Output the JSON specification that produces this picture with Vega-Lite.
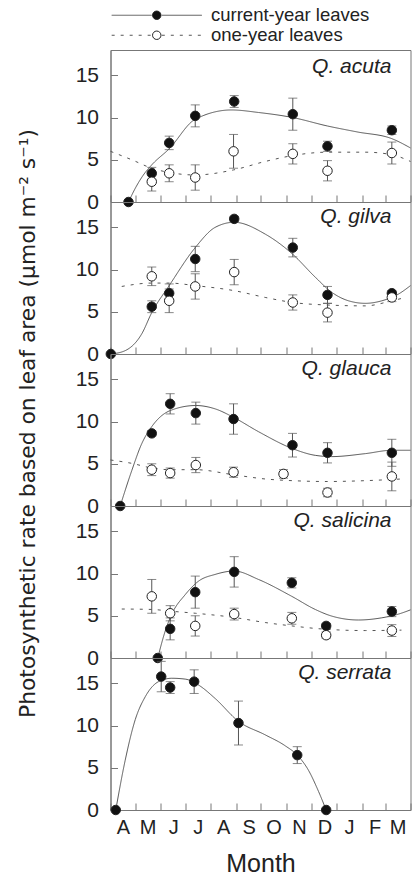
{
  "$schema": "https://vega.github.io/schema/vega-lite/v6.json",
  "padding": {"left": 16.5, "top": 6, "right": 0, "bottom": 0},
  "spacing": 0,
  "bounds": "flush",
  "config": {
    "font": "Liberation Sans",
    "view": {"stroke": "#777", "strokeWidth": 1},
    "axis": {"grid": false, "domainColor": "#777", "tickColor": "#777", "labelColor": "#222", "titleColor": "#222", "titleFontWeight": "normal", "labelFlush": false, "labelOverlap": false}
  },
  "datasets": {
    "obs": [
      {"sp": "Q. acuta", "leaves": "current-year leaves", "day": 21.9, "rate": 0, "err": 0},
      {"sp": "Q. acuta", "leaves": "current-year leaves", "day": 50.2, "rate": 3.4, "err": 0.7},
      {"sp": "Q. acuta", "leaves": "current-year leaves", "day": 71.4, "rate": 7.0, "err": 0.8},
      {"sp": "Q. acuta", "leaves": "current-year leaves", "day": 103.1, "rate": 10.2, "err": 1.3},
      {"sp": "Q. acuta", "leaves": "current-year leaves", "day": 150.5, "rate": 11.9, "err": 0.7},
      {"sp": "Q. acuta", "leaves": "current-year leaves", "day": 221.8, "rate": 10.4, "err": 1.9},
      {"sp": "Q. acuta", "leaves": "current-year leaves", "day": 264.0, "rate": 6.6, "err": 0.6},
      {"sp": "Q. acuta", "leaves": "current-year leaves", "day": 342.3, "rate": 8.5, "err": 0.5},
      {"sp": "Q. acuta", "leaves": "one-year leaves", "day": 50.2, "rate": 2.4, "err": 1.1},
      {"sp": "Q. acuta", "leaves": "one-year leaves", "day": 71.4, "rate": 3.4, "err": 1.0},
      {"sp": "Q. acuta", "leaves": "one-year leaves", "day": 103.1, "rate": 2.9, "err": 1.5},
      {"sp": "Q. acuta", "leaves": "one-year leaves", "day": 149.7, "rate": 6.0, "err": 2.0},
      {"sp": "Q. acuta", "leaves": "one-year leaves", "day": 221.8, "rate": 5.7, "err": 1.2},
      {"sp": "Q. acuta", "leaves": "one-year leaves", "day": 264.0, "rate": 3.7, "err": 1.2},
      {"sp": "Q. acuta", "leaves": "one-year leaves", "day": 342.3, "rate": 5.8, "err": 1.3},

      {"sp": "Q. gilva", "leaves": "current-year leaves", "day": 0.4, "rate": 0, "err": 0},
      {"sp": "Q. gilva", "leaves": "current-year leaves", "day": 50.2, "rate": 5.6, "err": 0.7},
      {"sp": "Q. gilva", "leaves": "current-year leaves", "day": 71.4, "rate": 7.2, "err": 1.1},
      {"sp": "Q. gilva", "leaves": "current-year leaves", "day": 103.1, "rate": 11.25, "err": 1.5},
      {"sp": "Q. gilva", "leaves": "current-year leaves", "day": 150.5, "rate": 16.0, "err": 0.3},
      {"sp": "Q. gilva", "leaves": "current-year leaves", "day": 221.8, "rate": 12.6, "err": 1.1},
      {"sp": "Q. gilva", "leaves": "current-year leaves", "day": 264.0, "rate": 7.0, "err": 1.0},
      {"sp": "Q. gilva", "leaves": "current-year leaves", "day": 342.3, "rate": 7.2, "err": 0.3},
      {"sp": "Q. gilva", "leaves": "one-year leaves", "day": 50.2, "rate": 9.2, "err": 1.1},
      {"sp": "Q. gilva", "leaves": "one-year leaves", "day": 71.4, "rate": 6.3, "err": 1.4},
      {"sp": "Q. gilva", "leaves": "one-year leaves", "day": 103.1, "rate": 8.0, "err": 1.5},
      {"sp": "Q. gilva", "leaves": "one-year leaves", "day": 150.5, "rate": 9.7, "err": 1.5},
      {"sp": "Q. gilva", "leaves": "one-year leaves", "day": 221.8, "rate": 6.1, "err": 0.9},
      {"sp": "Q. gilva", "leaves": "one-year leaves", "day": 264.0, "rate": 4.9, "err": 1.1},
      {"sp": "Q. gilva", "leaves": "one-year leaves", "day": 342.3, "rate": 6.7, "err": 0.5},

      {"sp": "Q. glauca", "leaves": "current-year leaves", "day": 11.8, "rate": 0, "err": 0},
      {"sp": "Q. glauca", "leaves": "current-year leaves", "day": 50.2, "rate": 8.6, "err": 0.3},
      {"sp": "Q. glauca", "leaves": "current-year leaves", "day": 72.6, "rate": 12.1, "err": 1.2},
      {"sp": "Q. glauca", "leaves": "current-year leaves", "day": 103.8, "rate": 11.0, "err": 1.3},
      {"sp": "Q. glauca", "leaves": "current-year leaves", "day": 149.7, "rate": 10.3, "err": 1.8},
      {"sp": "Q. glauca", "leaves": "current-year leaves", "day": 221.4, "rate": 7.2, "err": 1.4},
      {"sp": "Q. glauca", "leaves": "current-year leaves", "day": 264.0, "rate": 6.3, "err": 1.2},
      {"sp": "Q. glauca", "leaves": "current-year leaves", "day": 342.3, "rate": 6.3, "err": 1.6},
      {"sp": "Q. glauca", "leaves": "one-year leaves", "day": 50.2, "rate": 4.3, "err": 0.7},
      {"sp": "Q. glauca", "leaves": "one-year leaves", "day": 72.6, "rate": 3.9, "err": 0.6},
      {"sp": "Q. glauca", "leaves": "one-year leaves", "day": 103.8, "rate": 4.85, "err": 0.9},
      {"sp": "Q. glauca", "leaves": "one-year leaves", "day": 149.7, "rate": 4.0, "err": 0.6},
      {"sp": "Q. glauca", "leaves": "one-year leaves", "day": 210.5, "rate": 3.8, "err": 0.5},
      {"sp": "Q. glauca", "leaves": "one-year leaves", "day": 264.0, "rate": 1.6, "err": 0.5},
      {"sp": "Q. glauca", "leaves": "one-year leaves", "day": 342.3, "rate": 3.5, "err": 1.7},

      {"sp": "Q. salicina", "leaves": "current-year leaves", "day": 57.5, "rate": 0, "err": 0},
      {"sp": "Q. salicina", "leaves": "current-year leaves", "day": 72.6, "rate": 3.45, "err": 1.3},
      {"sp": "Q. salicina", "leaves": "current-year leaves", "day": 103.1, "rate": 7.8, "err": 1.9},
      {"sp": "Q. salicina", "leaves": "current-year leaves", "day": 150.5, "rate": 10.2, "err": 1.8},
      {"sp": "Q. salicina", "leaves": "current-year leaves", "day": 220.6, "rate": 8.9, "err": 0.6},
      {"sp": "Q. salicina", "leaves": "current-year leaves", "day": 262.4, "rate": 3.8, "err": 0.3},
      {"sp": "Q. salicina", "leaves": "current-year leaves", "day": 342.3, "rate": 5.5, "err": 0.6},
      {"sp": "Q. salicina", "leaves": "one-year leaves", "day": 50.2, "rate": 7.3, "err": 2.0},
      {"sp": "Q. salicina", "leaves": "one-year leaves", "day": 72.6, "rate": 5.3, "err": 0.9},
      {"sp": "Q. salicina", "leaves": "one-year leaves", "day": 103.1, "rate": 3.8, "err": 1.2},
      {"sp": "Q. salicina", "leaves": "one-year leaves", "day": 150.5, "rate": 5.2, "err": 0.7},
      {"sp": "Q. salicina", "leaves": "one-year leaves", "day": 220.6, "rate": 4.7, "err": 0.7},
      {"sp": "Q. salicina", "leaves": "one-year leaves", "day": 262.4, "rate": 2.7, "err": 0.4},
      {"sp": "Q. salicina", "leaves": "one-year leaves", "day": 342.3, "rate": 3.25, "err": 0.7},

      {"sp": "Q. serrata", "leaves": "current-year leaves", "day": 6.4, "rate": 0, "err": 0},
      {"sp": "Q. serrata", "leaves": "current-year leaves", "day": 61.7, "rate": 15.8, "err": 1.8},
      {"sp": "Q. serrata", "leaves": "current-year leaves", "day": 72.6, "rate": 14.5, "err": 0.7},
      {"sp": "Q. serrata", "leaves": "current-year leaves", "day": 101.8, "rate": 15.2, "err": 1.4},
      {"sp": "Q. serrata", "leaves": "current-year leaves", "day": 155.7, "rate": 10.3, "err": 2.6},
      {"sp": "Q. serrata", "leaves": "current-year leaves", "day": 227.2, "rate": 6.5, "err": 1.0},
      {"sp": "Q. serrata", "leaves": "current-year leaves", "day": 262.4, "rate": 0, "err": 0}
    ],
    "fit": [
      {"sp": "Q. acuta", "fit": "current-year leaves", "day": 21.9, "rate": 0},
      {"sp": "Q. acuta", "fit": "current-year leaves", "day": 30, "rate": 1.6},
      {"sp": "Q. acuta", "fit": "current-year leaves", "day": 40, "rate": 3.2},
      {"sp": "Q. acuta", "fit": "current-year leaves", "day": 50.2, "rate": 4.4},
      {"sp": "Q. acuta", "fit": "current-year leaves", "day": 71.4, "rate": 6.3},
      {"sp": "Q. acuta", "fit": "current-year leaves", "day": 103.1, "rate": 9.8},
      {"sp": "Q. acuta", "fit": "current-year leaves", "day": 147.2, "rate": 10.9},
      {"sp": "Q. acuta", "fit": "current-year leaves", "day": 180.1, "rate": 10.6},
      {"sp": "Q. acuta", "fit": "current-year leaves", "day": 221.8, "rate": 10.0},
      {"sp": "Q. acuta", "fit": "current-year leaves", "day": 264.0, "rate": 9.0},
      {"sp": "Q. acuta", "fit": "current-year leaves", "day": 300.0, "rate": 8.3},
      {"sp": "Q. acuta", "fit": "current-year leaves", "day": 342.3, "rate": 7.5},
      {"sp": "Q. acuta", "fit": "current-year leaves", "day": 365, "rate": 6.4},
      {"sp": "Q. acuta", "fit": "one-year leaves", "day": 0, "rate": 6.0},
      {"sp": "Q. acuta", "fit": "one-year leaves", "day": 25.9, "rate": 5.0},
      {"sp": "Q. acuta", "fit": "one-year leaves", "day": 50.2, "rate": 4.0},
      {"sp": "Q. acuta", "fit": "one-year leaves", "day": 71.4, "rate": 3.5},
      {"sp": "Q. acuta", "fit": "one-year leaves", "day": 103.1, "rate": 3.2},
      {"sp": "Q. acuta", "fit": "one-year leaves", "day": 149.7, "rate": 3.8},
      {"sp": "Q. acuta", "fit": "one-year leaves", "day": 188.2, "rate": 4.8},
      {"sp": "Q. acuta", "fit": "one-year leaves", "day": 221.8, "rate": 5.5},
      {"sp": "Q. acuta", "fit": "one-year leaves", "day": 264.0, "rate": 5.9},
      {"sp": "Q. acuta", "fit": "one-year leaves", "day": 309.9, "rate": 5.9},
      {"sp": "Q. acuta", "fit": "one-year leaves", "day": 342.3, "rate": 5.6},
      {"sp": "Q. acuta", "fit": "one-year leaves", "day": 365, "rate": 4.8},

      {"sp": "Q. gilva", "fit": "current-year leaves", "day": 0.4, "rate": 0},
      {"sp": "Q. gilva", "fit": "current-year leaves", "day": 17.9, "rate": 0.4},
      {"sp": "Q. gilva", "fit": "current-year leaves", "day": 38.1, "rate": 2.4},
      {"sp": "Q. gilva", "fit": "current-year leaves", "day": 50.2, "rate": 4.9},
      {"sp": "Q. gilva", "fit": "current-year leaves", "day": 71.4, "rate": 8.1},
      {"sp": "Q. gilva", "fit": "current-year leaves", "day": 103.1, "rate": 12.6},
      {"sp": "Q. gilva", "fit": "current-year leaves", "day": 127.4, "rate": 15.0},
      {"sp": "Q. gilva", "fit": "current-year leaves", "day": 150.5, "rate": 15.6},
      {"sp": "Q. gilva", "fit": "current-year leaves", "day": 188.2, "rate": 14.2},
      {"sp": "Q. gilva", "fit": "current-year leaves", "day": 221.8, "rate": 11.8},
      {"sp": "Q. gilva", "fit": "current-year leaves", "day": 249.1, "rate": 9.1},
      {"sp": "Q. gilva", "fit": "current-year leaves", "day": 269.3, "rate": 7.3},
      {"sp": "Q. gilva", "fit": "current-year leaves", "day": 289.6, "rate": 6.3},
      {"sp": "Q. gilva", "fit": "current-year leaves", "day": 309.9, "rate": 6.0},
      {"sp": "Q. gilva", "fit": "current-year leaves", "day": 330.1, "rate": 6.3},
      {"sp": "Q. gilva", "fit": "current-year leaves", "day": 350.4, "rate": 7.1},
      {"sp": "Q. gilva", "fit": "current-year leaves", "day": 365, "rate": 8.1},
      {"sp": "Q. gilva", "fit": "one-year leaves", "day": 13.7, "rate": 8.0},
      {"sp": "Q. gilva", "fit": "one-year leaves", "day": 50.2, "rate": 8.4},
      {"sp": "Q. gilva", "fit": "one-year leaves", "day": 71.4, "rate": 8.4},
      {"sp": "Q. gilva", "fit": "one-year leaves", "day": 103.1, "rate": 8.1},
      {"sp": "Q. gilva", "fit": "one-year leaves", "day": 150.5, "rate": 7.5},
      {"sp": "Q. gilva", "fit": "one-year leaves", "day": 188.2, "rate": 6.7},
      {"sp": "Q. gilva", "fit": "one-year leaves", "day": 221.8, "rate": 6.1},
      {"sp": "Q. gilva", "fit": "one-year leaves", "day": 264.0, "rate": 5.8},
      {"sp": "Q. gilva", "fit": "one-year leaves", "day": 309.9, "rate": 5.7},
      {"sp": "Q. gilva", "fit": "one-year leaves", "day": 342.3, "rate": 6.3},
      {"sp": "Q. gilva", "fit": "one-year leaves", "day": 355, "rate": 6.6},

      {"sp": "Q. glauca", "fit": "current-year leaves", "day": 11.8, "rate": 0},
      {"sp": "Q. glauca", "fit": "current-year leaves", "day": 25.9, "rate": 4.2},
      {"sp": "Q. glauca", "fit": "current-year leaves", "day": 38.1, "rate": 7.4},
      {"sp": "Q. glauca", "fit": "current-year leaves", "day": 50.2, "rate": 9.4},
      {"sp": "Q. glauca", "fit": "current-year leaves", "day": 72.6, "rate": 11.3},
      {"sp": "Q. glauca", "fit": "current-year leaves", "day": 103.8, "rate": 11.9},
      {"sp": "Q. glauca", "fit": "current-year leaves", "day": 127.4, "rate": 11.5},
      {"sp": "Q. glauca", "fit": "current-year leaves", "day": 149.7, "rate": 10.5},
      {"sp": "Q. glauca", "fit": "current-year leaves", "day": 180.1, "rate": 8.8},
      {"sp": "Q. glauca", "fit": "current-year leaves", "day": 221.4, "rate": 6.8},
      {"sp": "Q. glauca", "fit": "current-year leaves", "day": 249.1, "rate": 6.0},
      {"sp": "Q. glauca", "fit": "current-year leaves", "day": 269.3, "rate": 5.85},
      {"sp": "Q. glauca", "fit": "current-year leaves", "day": 309.9, "rate": 6.2},
      {"sp": "Q. glauca", "fit": "current-year leaves", "day": 342.3, "rate": 6.6},
      {"sp": "Q. glauca", "fit": "current-year leaves", "day": 365, "rate": 6.6},
      {"sp": "Q. glauca", "fit": "one-year leaves", "day": 0, "rate": 5.45},
      {"sp": "Q. glauca", "fit": "one-year leaves", "day": 25.9, "rate": 5.05},
      {"sp": "Q. glauca", "fit": "one-year leaves", "day": 50.2, "rate": 4.5},
      {"sp": "Q. glauca", "fit": "one-year leaves", "day": 72.6, "rate": 4.3},
      {"sp": "Q. glauca", "fit": "one-year leaves", "day": 103.8, "rate": 4.3},
      {"sp": "Q. glauca", "fit": "one-year leaves", "day": 149.7, "rate": 3.7},
      {"sp": "Q. glauca", "fit": "one-year leaves", "day": 188.2, "rate": 3.2},
      {"sp": "Q. glauca", "fit": "one-year leaves", "day": 221.4, "rate": 3.0},
      {"sp": "Q. glauca", "fit": "one-year leaves", "day": 264.0, "rate": 2.9},
      {"sp": "Q. glauca", "fit": "one-year leaves", "day": 309.9, "rate": 3.0},
      {"sp": "Q. glauca", "fit": "one-year leaves", "day": 354, "rate": 3.2},

      {"sp": "Q. salicina", "fit": "current-year leaves", "day": 57.5, "rate": 0},
      {"sp": "Q. salicina", "fit": "current-year leaves", "day": 66.6, "rate": 3.2},
      {"sp": "Q. salicina", "fit": "current-year leaves", "day": 74.6, "rate": 5.2},
      {"sp": "Q. salicina", "fit": "current-year leaves", "day": 90.9, "rate": 7.5},
      {"sp": "Q. salicina", "fit": "current-year leaves", "day": 107.1, "rate": 9.1},
      {"sp": "Q. salicina", "fit": "current-year leaves", "day": 127.4, "rate": 9.9},
      {"sp": "Q. salicina", "fit": "current-year leaves", "day": 150.5, "rate": 10.3},
      {"sp": "Q. salicina", "fit": "current-year leaves", "day": 180.1, "rate": 9.3},
      {"sp": "Q. salicina", "fit": "current-year leaves", "day": 220.6, "rate": 7.3},
      {"sp": "Q. salicina", "fit": "current-year leaves", "day": 249.1, "rate": 5.75},
      {"sp": "Q. salicina", "fit": "current-year leaves", "day": 269.3, "rate": 4.96},
      {"sp": "Q. salicina", "fit": "current-year leaves", "day": 301.7, "rate": 4.5},
      {"sp": "Q. salicina", "fit": "current-year leaves", "day": 330.1, "rate": 4.76},
      {"sp": "Q. salicina", "fit": "current-year leaves", "day": 350.4, "rate": 5.2},
      {"sp": "Q. salicina", "fit": "current-year leaves", "day": 365, "rate": 5.7},
      {"sp": "Q. salicina", "fit": "one-year leaves", "day": 13.7, "rate": 5.8},
      {"sp": "Q. salicina", "fit": "one-year leaves", "day": 50.2, "rate": 5.75},
      {"sp": "Q. salicina", "fit": "one-year leaves", "day": 72.6, "rate": 5.55},
      {"sp": "Q. salicina", "fit": "one-year leaves", "day": 103.1, "rate": 5.3},
      {"sp": "Q. salicina", "fit": "one-year leaves", "day": 150.5, "rate": 4.8},
      {"sp": "Q. salicina", "fit": "one-year leaves", "day": 188.2, "rate": 4.2},
      {"sp": "Q. salicina", "fit": "one-year leaves", "day": 220.6, "rate": 3.8},
      {"sp": "Q. salicina", "fit": "one-year leaves", "day": 262.4, "rate": 3.4},
      {"sp": "Q. salicina", "fit": "one-year leaves", "day": 309.9, "rate": 3.25},
      {"sp": "Q. salicina", "fit": "one-year leaves", "day": 354, "rate": 3.3},

      {"sp": "Q. serrata", "fit": "current-year leaves", "day": 6.4, "rate": 0},
      {"sp": "Q. serrata", "fit": "current-year leaves", "day": 17.9, "rate": 5.9},
      {"sp": "Q. serrata", "fit": "current-year leaves", "day": 30.1, "rate": 10.7},
      {"sp": "Q. serrata", "fit": "current-year leaves", "day": 42.2, "rate": 13.4},
      {"sp": "Q. serrata", "fit": "current-year leaves", "day": 58.4, "rate": 15.2},
      {"sp": "Q. serrata", "fit": "current-year leaves", "day": 74.6, "rate": 15.6},
      {"sp": "Q. serrata", "fit": "current-year leaves", "day": 90.9, "rate": 15.5},
      {"sp": "Q. serrata", "fit": "current-year leaves", "day": 107.1, "rate": 14.8},
      {"sp": "Q. serrata", "fit": "current-year leaves", "day": 127.4, "rate": 13.2},
      {"sp": "Q. serrata", "fit": "current-year leaves", "day": 155.7, "rate": 10.5},
      {"sp": "Q. serrata", "fit": "current-year leaves", "day": 188.2, "rate": 8.9},
      {"sp": "Q. serrata", "fit": "current-year leaves", "day": 212.6, "rate": 7.6},
      {"sp": "Q. serrata", "fit": "current-year leaves", "day": 227.2, "rate": 6.5},
      {"sp": "Q. serrata", "fit": "current-year leaves", "day": 240.9, "rate": 4.7},
      {"sp": "Q. serrata", "fit": "current-year leaves", "day": 253.1, "rate": 2.2},
      {"sp": "Q. serrata", "fit": "current-year leaves", "day": 262.4, "rate": 0}
    ]
  },
  "vconcat": [
    {
      "width": 300, "height": 152,
      "layer": [
        {"data": {"name": "obs"}, "transform": [{"filter": "datum.sp === 'Q. acuta' && datum.err > 0"}],
         "mark": {"type": "errorbar", "ticks": {"size": 9}, "color": "#555", "thickness": 1},
         "encoding": {"x": {"field": "day", "type": "quantitative"}, "y": {"field": "rate", "type": "quantitative"}, "yError": {"field": "err"}}},
        {"data": {"name": "fit"}, "transform": [{"filter": "datum.sp === 'Q. acuta'"}],
         "mark": {"type": "line", "interpolate": "monotone", "color": "#555", "strokeWidth": 1},
         "encoding": {
           "x": {"field": "day", "type": "quantitative", "scale": {"domain": [0, 365], "nice": false, "zero": false},
                 "axis": {"values": [0,30,61,91,122,153,183,214,245,275,306,334,365], "tickCount": 30, "labels": false, "tickSize": -7, "title": null}},
           "y": {"field": "rate", "type": "quantitative", "scale": {"domain": [0, 18], "nice": false},
                 "axis": {"values": [0,5,10,15], "tickSize": -7, "labelFontSize": 21, "labelPadding": 19, "labelOverlap": false, "title": null}},
           "strokeDash": {"field": "fit", "type": "nominal", "scale": {"range": [[1, 0], [3, 6]]},
             "legend": {"title": null, "orient": "none", "legendX": 37, "legendY": -44, "padding": 0, "symbolType": "M-10.7,0H-1.2M1.2,0H10.7", "symbolSize": 71, "symbolStrokeColor": "#555", "symbolStrokeWidth": 1, "labelFontSize": 18.5, "labelColor": "#222", "labelOffset": 45, "rowPadding": 1}}
         }},
        {"data": {"name": "obs"}, "transform": [{"filter": "datum.sp === 'Q. acuta'"}],
         "mark": {"type": "point", "shape": "circle", "filled": true, "size": 90, "stroke": "#222", "strokeWidth": 1, "opacity": 1},
         "encoding": {"x": {"field": "day", "type": "quantitative"}, "y": {"field": "rate", "type": "quantitative"},
           "fill": {"field": "leaves", "type": "nominal", "scale": {"range": ["#111111", "#ffffff"]},
             "legend": {"title": null, "orient": "none", "legendX": 37, "legendY": -44, "padding": 0, "symbolType": "circle", "symbolSize": 71, "symbolStrokeColor": "#222", "symbolStrokeWidth": 1, "labelFontSize": 18.5, "labelOpacity": 0, "labelOffset": 45, "rowPadding": 1}}}},
        {"data": {"values": [{"sp": "Q. acuta"}]},
         "mark": {"type": "text", "align": "right", "baseline": "alphabetic", "dx": -19, "dy": 23, "fontStyle": "italic", "fontSize": 21, "color": "#222"},
         "encoding": {"x": {"datum": 365}, "y": {"datum": 18}, "text": {"field": "sp"}}}
      ]
    },
    {
      "width": 300, "height": 152,
      "layer": [
        {"data": {"name": "obs"}, "transform": [{"filter": "datum.sp === 'Q. gilva' && datum.err > 0"}],
         "mark": {"type": "errorbar", "ticks": {"size": 9}, "color": "#555", "thickness": 1},
         "encoding": {"x": {"field": "day", "type": "quantitative"}, "y": {"field": "rate", "type": "quantitative"}, "yError": {"field": "err"}}},
        {"data": {"name": "fit"}, "transform": [{"filter": "datum.sp === 'Q. gilva'"}],
         "mark": {"type": "line", "interpolate": "monotone", "color": "#555", "strokeWidth": 1},
         "encoding": {
           "x": {"field": "day", "type": "quantitative", "scale": {"domain": [0, 365], "nice": false, "zero": false},
                 "axis": {"values": [0,30,61,91,122,153,183,214,245,275,306,334,365], "tickCount": 30, "labels": false, "tickSize": -7, "title": null}},
           "y": {"field": "rate", "type": "quantitative", "scale": {"domain": [0, 18], "nice": false},
                 "axis": {"values": [0,5,10,15], "tickSize": -7, "labelFontSize": 21, "labelPadding": 19, "labelOverlap": false, "title": null}},
           "strokeDash": {"field": "fit", "type": "nominal", "legend": null}
         }},
        {"data": {"name": "obs"}, "transform": [{"filter": "datum.sp === 'Q. gilva'"}],
         "mark": {"type": "point", "shape": "circle", "filled": true, "size": 90, "stroke": "#222", "strokeWidth": 1, "opacity": 1},
         "encoding": {"x": {"field": "day", "type": "quantitative"}, "y": {"field": "rate", "type": "quantitative"},
           "fill": {"field": "leaves", "type": "nominal", "legend": null}}},
        {"data": {"values": [{"sp": "Q. gilva"}]},
         "mark": {"type": "text", "align": "right", "baseline": "alphabetic", "dx": -19, "dy": 21, "fontStyle": "italic", "fontSize": 21, "color": "#222"},
         "encoding": {"x": {"datum": 365}, "y": {"datum": 18}, "text": {"field": "sp"}}}
      ]
    },
    {
      "width": 300, "height": 152,
      "layer": [
        {"data": {"name": "obs"}, "transform": [{"filter": "datum.sp === 'Q. glauca' && datum.err > 0"}],
         "mark": {"type": "errorbar", "ticks": {"size": 9}, "color": "#555", "thickness": 1},
         "encoding": {"x": {"field": "day", "type": "quantitative"}, "y": {"field": "rate", "type": "quantitative", "title": "Photosynthetic rate based on leaf area (μmol m⁻² s⁻¹)"}, "yError": {"field": "err"}}},
        {"data": {"name": "fit"}, "transform": [{"filter": "datum.sp === 'Q. glauca'"}],
         "mark": {"type": "line", "interpolate": "monotone", "color": "#555", "strokeWidth": 1},
         "encoding": {
           "x": {"field": "day", "type": "quantitative", "scale": {"domain": [0, 365], "nice": false, "zero": false},
                 "axis": {"values": [0,30,61,91,122,153,183,214,245,275,306,334,365], "tickCount": 30, "labels": false, "tickSize": -7, "title": null}},
           "y": {"field": "rate", "type": "quantitative", "scale": {"domain": [0, 18], "nice": false}, "title": "Photosynthetic rate based on leaf area (μmol m⁻² s⁻¹)",
                 "axis": {"values": [0,5,10,15], "tickSize": -7, "labelFontSize": 21, "labelPadding": 19, "labelOverlap": false,
                          "titleFont": "DejaVu Sans", "titleFontSize": 21.8, "titlePadding": 36, "titleY": 69}},
           "strokeDash": {"field": "fit", "type": "nominal", "legend": null}
         }},
        {"data": {"name": "obs"}, "transform": [{"filter": "datum.sp === 'Q. glauca'"}],
         "mark": {"type": "point", "shape": "circle", "filled": true, "size": 90, "stroke": "#222", "strokeWidth": 1, "opacity": 1},
         "encoding": {"x": {"field": "day", "type": "quantitative"}, "y": {"field": "rate", "type": "quantitative", "title": "Photosynthetic rate based on leaf area (μmol m⁻² s⁻¹)"},
           "fill": {"field": "leaves", "type": "nominal", "legend": null}}},
        {"data": {"values": [{"sp": "Q. glauca"}]},
         "mark": {"type": "text", "align": "right", "baseline": "alphabetic", "dx": -19, "dy": 21, "fontStyle": "italic", "fontSize": 21, "color": "#222"},
         "encoding": {"x": {"datum": 365}, "y": {"datum": 18}, "text": {"field": "sp"}}}
      ]
    },
    {
      "width": 300, "height": 152,
      "layer": [
        {"data": {"name": "obs"}, "transform": [{"filter": "datum.sp === 'Q. salicina' && datum.err > 0"}],
         "mark": {"type": "errorbar", "ticks": {"size": 9}, "color": "#555", "thickness": 1},
         "encoding": {"x": {"field": "day", "type": "quantitative"}, "y": {"field": "rate", "type": "quantitative"}, "yError": {"field": "err"}}},
        {"data": {"name": "fit"}, "transform": [{"filter": "datum.sp === 'Q. salicina'"}],
         "mark": {"type": "line", "interpolate": "monotone", "color": "#555", "strokeWidth": 1},
         "encoding": {
           "x": {"field": "day", "type": "quantitative", "scale": {"domain": [0, 365], "nice": false, "zero": false},
                 "axis": {"values": [0,30,61,91,122,153,183,214,245,275,306,334,365], "tickCount": 30, "labels": false, "tickSize": -7, "title": null}},
           "y": {"field": "rate", "type": "quantitative", "scale": {"domain": [0, 18], "nice": false},
                 "axis": {"values": [0,5,10,15], "tickSize": -7, "labelFontSize": 21, "labelPadding": 19, "labelOverlap": false, "title": null}},
           "strokeDash": {"field": "fit", "type": "nominal", "legend": null}
         }},
        {"data": {"name": "obs"}, "transform": [{"filter": "datum.sp === 'Q. salicina'"}],
         "mark": {"type": "point", "shape": "circle", "filled": true, "size": 90, "stroke": "#222", "strokeWidth": 1, "opacity": 1},
         "encoding": {"x": {"field": "day", "type": "quantitative"}, "y": {"field": "rate", "type": "quantitative"},
           "fill": {"field": "leaves", "type": "nominal", "legend": null}}},
        {"data": {"values": [{"sp": "Q. salicina"}]},
         "mark": {"type": "text", "align": "right", "baseline": "alphabetic", "dx": -19, "dy": 21, "fontStyle": "italic", "fontSize": 21, "color": "#222"},
         "encoding": {"x": {"datum": 365}, "y": {"datum": 18}, "text": {"field": "sp"}}}
      ]
    },
    {
      "width": 300, "height": 152,
      "layer": [
        {"data": {"name": "obs"}, "transform": [{"filter": "datum.sp === 'Q. serrata' && datum.err > 0"}],
         "mark": {"type": "errorbar", "ticks": {"size": 9}, "color": "#555", "thickness": 1},
         "encoding": {"x": {"field": "day", "type": "quantitative"}, "y": {"field": "rate", "type": "quantitative"}, "yError": {"field": "err"}}},
        {"data": {"name": "fit"}, "transform": [{"filter": "datum.sp === 'Q. serrata'"}],
         "mark": {"type": "line", "interpolate": "monotone", "color": "#555", "strokeWidth": 1},
         "encoding": {
           "x": {"field": "day", "type": "quantitative", "scale": {"domain": [0, 365], "nice": false, "zero": false},
                 "axis": {"values": [0,30,61,91,122,153,183,214,245,275,306,334,365], "tickCount": 30, "tickSize": -7,
                          "labelExpr": "['A','M','J','J','A','S','O','N','D','J','F','M',''][indexof([0,30,61,91,122,153,183,214,245,275,306,334,365], datum.value)]",
                          "labelOffset": 12.5, "labelFontSize": 20, "labelPadding": 14, "labelOverlap": false, "labelBound": false,
                          "title": "Month", "titleFontSize": 25, "titlePadding": 14}},
           "y": {"field": "rate", "type": "quantitative", "scale": {"domain": [0, 18], "nice": false},
                 "axis": {"values": [0,5,10,15], "tickSize": -7, "labelFontSize": 21, "labelPadding": 19, "labelOverlap": false, "title": null}},
           "strokeDash": {"field": "fit", "type": "nominal", "legend": null}
         }},
        {"data": {"name": "obs"}, "transform": [{"filter": "datum.sp === 'Q. serrata'"}],
         "mark": {"type": "point", "shape": "circle", "filled": true, "size": 90, "stroke": "#222", "strokeWidth": 1, "opacity": 1},
         "encoding": {"x": {"field": "day", "type": "quantitative"}, "y": {"field": "rate", "type": "quantitative"},
           "fill": {"field": "leaves", "type": "nominal", "legend": null}}},
        {"data": {"values": [{"sp": "Q. serrata"}]},
         "mark": {"type": "text", "align": "right", "baseline": "alphabetic", "dx": -19, "dy": 21, "fontStyle": "italic", "fontSize": 21, "color": "#222"},
         "encoding": {"x": {"datum": 365}, "y": {"datum": 18}, "text": {"field": "sp"}}}
      ]
    }
  ]
}
